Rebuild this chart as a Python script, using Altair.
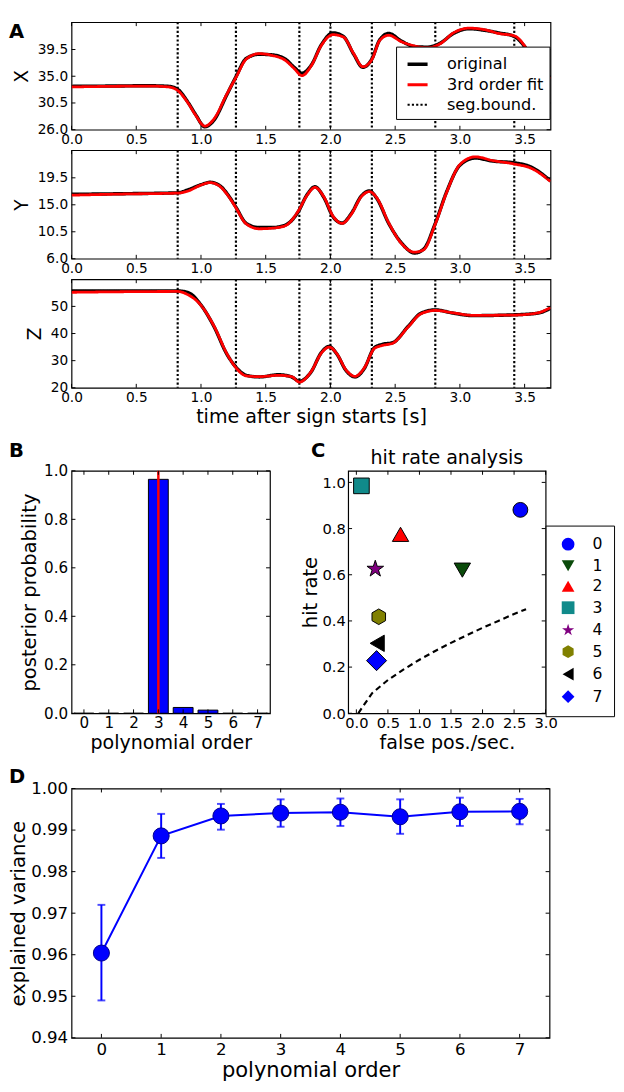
import altair as alt
import pandas as pd

FONT = "DejaVu Sans"

# ---------------- Panel A data ----------------
seg_bounds = [0.82, 1.27, 1.76, 2.00, 2.32, 2.81, 3.42]
time_ticks = [0.0, 0.5, 1.0, 1.5, 2.0, 2.5, 3.0, 3.5]

x_time = [0.0, 0.3, 0.6, 0.75, 0.82, 0.9, 0.96, 1.03, 1.1, 1.2, 1.27, 1.35, 1.45, 1.55, 1.65,
          1.72, 1.78, 1.85, 1.93, 2.02, 2.1, 2.18, 2.25, 2.32, 2.38, 2.45, 2.55, 2.65, 2.75,
          2.85, 2.95, 3.07, 3.2, 3.3, 3.42, 3.5, 3.56, 3.62, 3.7]
x_orig = [33.3, 33.35, 33.4, 33.3, 32.8, 30.6, 28.5, 26.5, 27.6, 31.9, 34.9, 38.0, 38.7, 38.6, 37.9,
          36.5, 35.5, 36.8, 40.3, 42.3, 41.7, 38.7, 36.5, 37.9, 41.1, 42.2, 40.9, 40.0, 39.9,
          40.6, 42.2, 43.0, 42.7, 42.3, 41.7, 40.0, 38.0, 36.4, 34.8]
x_fit = [33.2, 33.3, 33.35, 33.2, 32.6, 30.5, 28.4, 26.6, 27.8, 32.0, 34.8, 37.9, 38.8, 38.5, 37.7,
         36.3, 35.1, 36.7, 40.2, 42.0, 41.6, 38.8, 36.6, 37.8, 41.0, 41.9, 40.8, 40.1, 39.8,
         40.5, 42.3, 43.1, 42.8, 42.2, 41.8, 40.1, 37.8, 36.2, 34.6]
x_ticks = [26.0, 30.5, 35.0, 39.5]

y_time = [0.0, 0.4, 0.82, 0.9, 1.0, 1.07, 1.15, 1.22, 1.27, 1.35, 1.45, 1.55, 1.65, 1.75, 1.82,
          1.88, 1.95, 2.02, 2.09, 2.16, 2.24, 2.3, 2.36, 2.45, 2.55, 2.65, 2.72, 2.81, 2.9, 3.0,
          3.12, 3.25, 3.42, 3.55, 3.7]
y_orig = [16.75, 16.85, 17.0, 17.5, 18.35, 18.75, 18.1, 16.3, 14.6, 11.9, 11.2, 11.2, 11.6, 13.8, 16.7,
          18.0, 16.2, 13.0, 11.95, 13.5, 16.5, 17.3, 16.0, 11.9, 8.6, 6.95, 7.6, 11.9, 17.3, 21.6,
          22.8, 22.3, 22.0, 21.3, 19.0]
y_fit = [16.6, 16.8, 16.95, 17.3, 18.3, 18.7, 18.0, 16.2, 14.5, 11.8, 11.0, 11.1, 11.5, 13.9, 16.6,
         17.9, 16.3, 13.1, 11.9, 13.4, 16.4, 17.2, 16.1, 12.0, 8.5, 7.1, 7.5, 11.8, 17.2, 21.7,
         23.0, 22.4, 21.8, 21.1, 18.9]
y_ticks = [6.0, 10.5, 15.0, 19.5]

z_time = [0.0, 0.82, 0.9, 1.0, 1.1, 1.2, 1.27, 1.35, 1.45, 1.6, 1.7, 1.76, 1.85, 1.93, 1.99,
          2.05, 2.12, 2.19, 2.26, 2.34, 2.4, 2.48, 2.6, 2.7, 2.81, 2.95, 3.1, 3.42, 3.6, 3.7]
z_orig = [55.7, 55.7, 55.1, 50.5, 42.6, 32.4, 27.6, 24.6, 24.0, 24.8, 24.0, 22.4, 25.8, 33.0, 35.2,
          32.4, 26.4, 24.0, 27.0, 34.8, 36.0, 36.6, 42.6, 47.5, 48.7, 47.5, 46.6, 46.9, 47.5, 49.3]
z_fit = [55.2, 55.5, 54.3, 50.4, 42.8, 32.6, 27.4, 24.4, 24.1, 24.6, 24.1, 22.1, 25.9, 32.8, 35.0,
         32.5, 26.6, 24.2, 27.2, 34.5, 35.6, 36.4, 42.4, 47.3, 48.5, 47.6, 46.7, 46.8, 47.6, 49.6]
z_ticks = [20, 30, 40, 50]

series_names = ["original", "3rd order fit", "seg.bound."]

# ---------------- Panel B data ----------------
orders = [0, 1, 2, 3, 4, 5, 6, 7]
posterior = [0.0, 0.0, 0.0, 0.965, 0.024, 0.013, 0.0, 0.0]
best_order = [3]
prob_ticks = [0.0, 0.2, 0.4, 0.6, 0.8, 1.0]

# ---------------- Panel C data ----------------
hit_labels = ["0", "1", "2", "3", "4", "5", "6", "7"]
false_pos = [2.60, 1.68, 0.70, 0.08, 0.30, 0.355, 0.33, 0.32]
hit_rate = [0.881, 0.62, 0.775, 0.985, 0.625, 0.418, 0.303, 0.228]
marker_size = [230, 280, 280, 256, 320, 256, 280, 420]
chance_x = [0.03, 0.25, 0.5, 0.75, 1.0, 1.25, 1.5, 1.75, 2.0, 2.25, 2.5, 2.69]
chance_y = [0.0, 0.087, 0.144, 0.19, 0.232, 0.27, 0.305, 0.338, 0.37, 0.40, 0.43, 0.451]
fp_ticks = [0.0, 0.5, 1.0, 1.5, 2.0, 2.5, 3.0]
hr_ticks = [0.0, 0.2, 0.4, 0.6, 0.8, 1.0]

STAR = ("M0,-1L0.2245,-0.309L0.951,-0.309L0.363,0.118L0.588,0.809L0,0.382"
        "L-0.588,0.809L-0.363,0.118L-0.951,-0.309L-0.2245,-0.309Z")
HEX = "M0,-1L0.866,-0.5L0.866,0.5L0,1L-0.866,0.5L-0.866,-0.5Z"
marker_shapes = ["circle", "triangle-down", "triangle-up", "square", STAR, HEX, "triangle-left", "diamond"]
marker_fills = ["#0000ff", "#0a4a0a", "#ff0000", "#108a8a", "#800080", "#808000", "#000000", "#0000ff"]

# ---------------- Panel D data ----------------
ev_mean = [0.9604, 0.9886, 0.9934, 0.9941, 0.9943, 0.9932, 0.9944, 0.9945]
ev_lo = [0.9490, 0.9833, 0.9901, 0.9908, 0.9910, 0.9891, 0.9910, 0.9914]
ev_hi = [0.9720, 0.9939, 0.9963, 0.9974, 0.9976, 0.9974, 0.9978, 0.9975]
ev_ticks = [0.94, 0.95, 0.96, 0.97, 0.98, 0.99, 1.00]


# ---------------- helpers ----------------
AX_BASE = dict(ticks=False, domain=False, grid=False, labelFont=FONT, titleFont=FONT,
               labelColor="black", titleColor="black", titleFontWeight="normal",
               labelFlush=False, labelOverlap=False)


def mk_axis(**kw):
    d = dict(AX_BASE)
    d.update(kw)
    return alt.Axis(**d)


def frame_ticks(xvals, yvals, xs, ys, xax, yax, w, h, L=4):
    dx = pd.DataFrame({"tv": xvals})
    dy = pd.DataFrame({"tv": yvals})
    r = dict(color="black", strokeWidth=1)
    xb = alt.Chart(dx).mark_rule(**r).encode(
        x=alt.X("tv:Q", scale=xs, axis=xax), y=alt.value(h), y2=alt.value(h - L))
    xt = alt.Chart(dx).mark_rule(**r).encode(
        x=alt.X("tv:Q", scale=xs, axis=xax), y=alt.value(0), y2=alt.value(L))
    yl = alt.Chart(dy).mark_rule(**r).encode(
        y=alt.Y("tv:Q", scale=ys, axis=yax), x=alt.value(0), x2=alt.value(L))
    yr = alt.Chart(dy).mark_rule(**r).encode(
        y=alt.Y("tv:Q", scale=ys, axis=yax), x=alt.value(w), x2=alt.value(w - L))
    return [xb, xt, yl, yr]


def text_note(txt, x, y, size=20, bold=True, align="left", baseline="middle"):
    return alt.Chart(pd.DataFrame({"s": [txt]})).mark_text(
        align=align, baseline=baseline, fontSize=size, fontWeight="bold" if bold else "normal",
        font=FONT, color="black"
    ).encode(text="s:N", x=alt.value(x), y=alt.value(y))


A_W = 490


def a_panel(times, orig, fit, ydom, yticks, yfmt, ytitle, height, legend, xtitle=None, let=None):
    xs = alt.Scale(domain=[0, 3.7], nice=False, zero=False)
    ys = alt.Scale(domain=ydom, nice=False, zero=False)
    cs = alt.Scale(domain=series_names, range=["#000000", "#ff0000", "#000000"])
    ds = alt.Scale(domain=series_names, range=[[1, 0], [1, 0], [2.2, 2.2]])
    ws = alt.Scale(domain=series_names, range=[3.5, 2.2, 2.5])

    def sty():
        return dict(
            color=alt.Color("series:N", scale=cs, legend=legend),
            strokeDash=alt.StrokeDash("series:N", scale=ds, legend=legend),
            strokeWidth=alt.StrokeWidth("series:N", scale=ws, legend=legend),
        )

    xaxis_kw = dict(values=time_ticks, format=".1f", labelFontSize=14, labelPadding=3)
    if xtitle:
        xaxis_kw.update(title=xtitle, titleFontSize=19.5, titlePadding=4)
    else:
        xaxis_kw.update(title=None)
    xax = mk_axis(**xaxis_kw)
    yax = mk_axis(values=yticks, format=yfmt, labelFontSize=14, labelPadding=4,
                  title=ytitle, titleFontSize=19, titlePadding=6)

    df_o = pd.DataFrame({"t": times, "v": orig, "series": "original"})
    df_f = pd.DataFrame({"t": times, "v": fit, "series": "3rd order fit"})
    df_r = pd.DataFrame({"t": seg_bounds, "series": "seg.bound."})

    lo = alt.Chart(df_o).mark_line(interpolate="monotone", clip=True).encode(
        x=alt.X("t:Q", scale=xs, axis=xax), y=alt.Y("v:Q", scale=ys, axis=yax), **sty())
    rules = alt.Chart(df_r).mark_rule().encode(x=alt.X("t:Q", scale=xs, axis=xax), **sty())
    lf = alt.Chart(df_f).mark_line(interpolate="monotone", clip=True).encode(
        x=alt.X("t:Q", scale=xs, axis=xax), y=alt.Y("v:Q", scale=ys, axis=yax), **sty())
    layers = [rules, lo, lf] + frame_ticks(time_ticks, yticks, xs, ys, xax, yax, A_W, height)
    if let:
        layers.append(text_note(let, -64, 0, baseline="top"))
    return alt.layer(*layers).properties(width=A_W, height=height)


legA = alt.Legend(title=None, orient="none", legendX=332, legendY=25, symbolType="stroke",
                  symbolSize=420, labelFontSize=16.5, labelFont=FONT, labelColor="black",
                  padding=6, rowPadding=0, strokeColor="black", fillColor="white",
                  labelOffset=18, symbolOffset=4, cornerRadius=0)

pX = a_panel(x_time, x_orig, x_fit, [26.0, 44.1], x_ticks, ".1f", "X", 110, legA, let="A")
pY = a_panel(y_time, y_orig, y_fit, [6.0, 24.1], y_ticks, ".1f", "Y", 111, None)
pZ = a_panel(z_time, z_orig, z_fit, [20, 60], z_ticks, "d", "Z", 111, None,
             xtitle="time after sign starts [s]")

A = alt.vconcat(pX, pY, pZ, spacing=21, bounds="flush").resolve_scale(
    color="independent", strokeDash="independent", strokeWidth="independent")

# ---------------- Panel B ----------------
B_W, B_H = 203, 248
xsB = alt.Scale(domain=[-0.5, 7.5], nice=False, zero=False)
ysB = alt.Scale(domain=[0, 1], nice=False, zero=False)
xaxB = mk_axis(values=orders, format="d", labelFontSize=15.5, labelPadding=3,
               title="polynomial order", titleFontSize=19.5, titlePadding=3)
yaxB = mk_axis(values=prob_ticks, format=".1f", labelFontSize=15.5, labelPadding=4,
               title="posterior probability", titleFontSize=20, titlePadding=4)
dfB = pd.DataFrame({"order": orders, "prob": posterior})
bars = alt.Chart(dfB).transform_calculate(
    lo="datum.order - 0.4", hi="datum.order + 0.4", base="0"
).mark_rect(color="#0000ff", stroke="black", strokeWidth=1).encode(
    x=alt.X("lo:Q", scale=xsB, axis=xaxB), x2="hi:Q",
    y=alt.Y("prob:Q", scale=ysB, axis=yaxB), y2="base:Q",
)
best = alt.Chart(pd.DataFrame({"o": best_order})).mark_rule(color="#ff0000", strokeWidth=2.5).encode(
    x=alt.X("o:Q", scale=xsB, axis=xaxB))
B = alt.layer(bars, best, *frame_ticks(orders, prob_ticks, xsB, ysB, xaxB, yaxB, B_W, B_H),
              text_note("B", -64, -20)).properties(width=B_W, height=B_H)

# ---------------- Panel C ----------------
C_W, C_H = 202, 248
xsC = alt.Scale(domain=[-0.13, 3.0], nice=False, zero=False)
ysC = alt.Scale(domain=[0, 1.05], nice=False, zero=False)
xaxC = mk_axis(values=fp_ticks, format=".1f", labelFontSize=15, labelPadding=3,
               title="false pos./sec.", titleFontSize=19.5, titlePadding=3)
yaxC = mk_axis(values=hr_ticks, format=".1f", labelFontSize=15, labelPadding=3,
               title="hit rate", titleFontSize=20, titlePadding=2)
legC = alt.Legend(title=None, orient="none", legendX=202, legendY=56, symbolSize=170,
                  labelFontSize=16, labelFont=FONT, labelColor="black", padding=11, rowPadding=5,
                  strokeColor="black", fillColor="white", labelOffset=17, symbolOffset=4,
                  symbolStrokeColor="black", symbolStrokeWidth=1, cornerRadius=0)
dfC = pd.DataFrame({"label": hit_labels, "fp": false_pos, "hr": hit_rate, "sz": marker_size})
dfCh = pd.DataFrame({"cx": chance_x, "cy": chance_y})
chance = alt.Chart(dfCh).mark_line(color="black", strokeDash=[6, 4], strokeWidth=2.2).encode(
    x=alt.X("cx:Q", scale=xsC, axis=xaxC), y=alt.Y("cy:Q", scale=ysC, axis=yaxC))
pts = alt.Chart(dfC).mark_point(filled=True, opacity=1, stroke="black", strokeWidth=1).encode(
    x=alt.X("fp:Q", scale=xsC, axis=xaxC),
    y=alt.Y("hr:Q", scale=ysC, axis=yaxC),
    fill=alt.Fill("label:N", scale=alt.Scale(domain=hit_labels, range=marker_fills), legend=legC),
    shape=alt.Shape("label:N", scale=alt.Scale(domain=hit_labels, range=marker_shapes), legend=legC),
    size=alt.Size("sz:Q", scale=None, legend=None),
)
C = alt.layer(chance, pts, *frame_ticks(fp_ticks, hr_ticks, xsC, ysC, xaxC, yaxC, C_W, C_H),
              text_note("C", -38, -20),
              text_note("hit rate analysis", C_W / 2, -13, size=19.5, bold=False, align="center")
              ).properties(width=C_W, height=C_H)

BC = alt.hconcat(B, C, spacing=80, bounds="flush").resolve_scale(
    fill="independent", shape="independent", size="independent")

# ---------------- Panel D ----------------
D_W, D_H = 489, 255
xsD = alt.Scale(domain=[-0.5, 7.5], nice=False, zero=False)
ysD = alt.Scale(domain=[0.94, 1.0], nice=False, zero=False)
xaxD = mk_axis(values=orders, format="d", labelFontSize=17, labelPadding=4,
               title="polynomial order", titleFontSize=21.5, titlePadding=3)
yaxD = mk_axis(values=ev_ticks, format=".2f", labelFontSize=17, labelPadding=4,
               title="explained variance", titleFontSize=20, titlePadding=2)
dfD = pd.DataFrame({"order": orders, "ev": ev_mean, "lo": ev_lo, "hi": ev_hi})
BLUE = "#0000ff"
dline = alt.Chart(dfD).mark_line(color=BLUE, strokeWidth=2).encode(
    x=alt.X("order:Q", scale=xsD, axis=xaxD), y=alt.Y("ev:Q", scale=ysD, axis=yaxD))
derr = alt.Chart(dfD).mark_rule(color=BLUE, strokeWidth=2).encode(
    x=alt.X("order:Q", scale=xsD, axis=xaxD), y=alt.Y("lo:Q", scale=ysD, axis=yaxD), y2="hi:Q")
dcap_lo = alt.Chart(dfD).mark_tick(color=BLUE, thickness=2, size=8, orient="horizontal").encode(
    x=alt.X("order:Q", scale=xsD, axis=xaxD), y=alt.Y("lo:Q", scale=ysD, axis=yaxD))
dcap_hi = alt.Chart(dfD).mark_tick(color=BLUE, thickness=2, size=8, orient="horizontal").encode(
    x=alt.X("order:Q", scale=xsD, axis=xaxD), y=alt.Y("hi:Q", scale=ysD, axis=yaxD))
dpts = alt.Chart(dfD).mark_point(filled=True, shape="circle", size=270, fill=BLUE, stroke="#00008b",
                                 strokeWidth=1, opacity=1).encode(
    x=alt.X("order:Q", scale=xsD, axis=xaxD), y=alt.Y("ev:Q", scale=ysD, axis=yaxD))
D = alt.layer(dline, derr, dcap_lo, dcap_hi, dpts,
              *frame_ticks(orders, ev_ticks, xsD, ysD, xaxD, yaxD, D_W, D_H),
              text_note("D", -64, -12)).properties(width=D_W, height=D_H)

chart = alt.vconcat(A, BC, D, spacing=13).resolve_scale(
    color="independent", strokeDash="independent", strokeWidth="independent",
    fill="independent", shape="independent", size="independent"
).properties(padding=0, background="white").configure_view(
    stroke="black", strokeWidth=1.2
).configure_legend(labelFont=FONT, labelColor="black")

chart.save("out.html", embed_options={"renderer": "svg", "actions": False})
